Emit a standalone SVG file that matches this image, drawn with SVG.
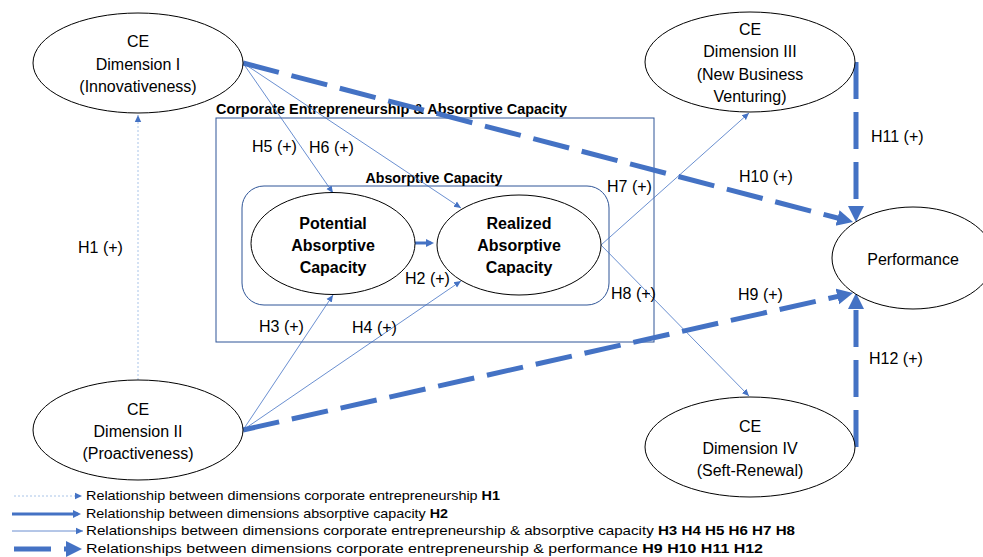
<svg xmlns="http://www.w3.org/2000/svg" width="983" height="557" viewBox="0 0 983 557">
<style>
  text { font-family: "Liberation Sans", Arial, sans-serif; fill: #000; }
  .n { font-size: 16px; text-anchor: middle; }
  .nb { font-size: 16px; text-anchor: middle; font-weight: bold; }
  .lbl { font-size: 16px; }
  .leg { font-size: 13.5px; }
  .ell { fill: #fff; stroke: #000; stroke-width: 1; }
  .box { fill: none; stroke: #2F5597; stroke-width: 1; }
  .thin { stroke: #4472C4; stroke-width: 0.8; fill: none; marker-end: url(#aThin); }
  .dot { stroke: #A9C4E8; stroke-width: 1; stroke-dasharray: 2 2; fill: none; marker-end: url(#aThin); }
  .med { stroke: #4472C4; stroke-width: 3; fill: none; marker-end: url(#aMed); }
  .dash { stroke: #4472C4; stroke-width: 5; stroke-dasharray: 37 13; fill: none; marker-end: url(#aBig); }
</style>
<defs>
  <marker id="aThin" markerUnits="userSpaceOnUse" markerWidth="8" markerHeight="8" refX="7" refY="4" orient="auto">
    <path d="M0,0.8 L7,4 L0,7.2 z" fill="#4472C4"/>
  </marker>
  <marker id="aMed" markerUnits="userSpaceOnUse" markerWidth="10" markerHeight="10" refX="5" refY="5" orient="auto">
    <path d="M0,1 L8,5 L0,9 z" fill="#4472C4"/>
  </marker>
  <marker id="aBig" markerUnits="userSpaceOnUse" markerWidth="18" markerHeight="18" refX="4" refY="9" orient="auto">
    <path d="M0,1 L16,9 L0,17 z" fill="#4472C4"/>
  </marker>
</defs>

<g id="frame-ce-ac">
  <rect class="box" x="216" y="118" width="438" height="224"/>
  <text x="216" y="114" font-size="14" font-weight="bold" textLength="351" lengthAdjust="spacingAndGlyphs">Corporate Entrepreneurship &amp; Absorptive Capacity</text>
</g>
<g id="frame-ac">
  <rect class="box" x="242" y="186" width="367" height="119" rx="22" ry="22"/>
  <text x="434" y="183" font-size="14" font-weight="bold" text-anchor="middle" textLength="137" lengthAdjust="spacingAndGlyphs">Absorptive Capacity</text>
</g>

<g id="connectors">
  <line class="dot" x1="138" y1="380" x2="138" y2="115"/>
  <line class="med" x1="415" y1="243" x2="431" y2="243"/>
  <line class="thin" x1="243" y1="63" x2="333" y2="193"/>
  <line class="thin" x1="243" y1="63" x2="461" y2="208"/>
  <line class="thin" x1="243" y1="430" x2="333" y2="295"/>
  <line class="thin" x1="243" y1="430" x2="461" y2="281"/>
  <line class="thin" x1="601" y1="245" x2="749" y2="113"/>
  <line class="thin" x1="601" y1="245" x2="749" y2="396"/>
  <line class="dash" x1="243" y1="63" x2="841.4" y2="219"/>
  <line class="dash" x1="243" y1="430" x2="841.3" y2="295.6"/>
  <line class="dash" x1="856" y1="62" x2="856" y2="210"/>
  <line class="dash" x1="856" y1="447" x2="856" y2="305"/>
</g>

<g id="ce1">
  <ellipse class="ell" cx="138" cy="63" rx="105" ry="50"/>
  <text class="n" x="138" y="47">CE</text>
  <text class="n" x="138" y="70">Dimension I</text>
  <text class="n" x="138" y="92">(Innovativeness)</text>
</g>
<g id="ce2">
  <ellipse class="ell" cx="138" cy="430" rx="105" ry="50"/>
  <text class="n" x="138" y="415">CE</text>
  <text class="n" x="138" y="437">Dimension II</text>
  <text class="n" x="138" y="459">(Proactiveness)</text>
</g>
<g id="ce3">
  <ellipse class="ell" cx="750" cy="62" rx="105" ry="50"/>
  <text class="n" x="750" y="35">CE</text>
  <text class="n" x="750" y="57">Dimension III</text>
  <text class="n" x="750" y="80">(New Business</text>
  <text class="n" x="750" y="102">Venturing)</text>
</g>
<g id="ce4">
  <ellipse class="ell" cx="750" cy="447" rx="105" ry="50"/>
  <text class="n" x="750" y="432">CE</text>
  <text class="n" x="750" y="454">Dimension IV</text>
  <text class="n" x="750" y="476">(Seft-Renewal)</text>
</g>
<g id="performance">
  <ellipse class="ell" cx="913" cy="258" rx="81" ry="51"/>
  <text class="n" x="913" y="265" font-size="17">Performance</text>
</g>
<g id="pac">
  <ellipse class="ell" cx="333" cy="243.5" rx="82" ry="51"/>
  <text class="nb" x="333" y="229">Potential</text>
  <text class="nb" x="333" y="251">Absorptive</text>
  <text class="nb" x="333" y="273">Capacity</text>
</g>
<g id="rac">
  <ellipse class="ell" cx="519" cy="245" rx="82" ry="50"/>
  <text class="nb" x="519" y="229">Realized</text>
  <text class="nb" x="519" y="251">Absorptive</text>
  <text class="nb" x="519" y="273">Capacity</text>
</g>

<g id="labels">
  <text class="lbl" x="78" y="253">H1 (+)</text>
  <text class="lbl" x="405" y="284">H2 (+)</text>
  <text class="lbl" x="259" y="332">H3 (+)</text>
  <text class="lbl" x="352" y="333">H4 (+)</text>
  <text class="lbl" x="252" y="152">H5 (+)</text>
  <text class="lbl" x="309" y="153">H6 (+)</text>
  <text class="lbl" x="607" y="192">H7 (+)</text>
  <text class="lbl" x="611" y="299">H8 (+)</text>
  <text class="lbl" x="738" y="300">H9 (+)</text>
  <text class="lbl" x="739" y="182">H10 (+)</text>
  <text class="lbl" x="871" y="142">H11 (+)</text>
  <text class="lbl" x="869" y="364">H12 (+)</text>
</g>

<g id="legend">
  <line class="dot" x1="14" y1="496" x2="82" y2="496"/>
  <line class="med" x1="12" y1="514" x2="78" y2="514"/>
  <line class="thin" x1="12" y1="531" x2="83" y2="531"/>
  <line class="dash" x1="14" y1="549" x2="70" y2="549" stroke-dasharray="36 20"/>
  <text class="leg" x="86" y="500" textLength="414" lengthAdjust="spacingAndGlyphs">Relationship between dimensions corporate entrepreneurship <tspan font-weight="bold">H1</tspan></text>
  <text class="leg" x="86" y="518" textLength="362" lengthAdjust="spacingAndGlyphs">Relationship between dimensions absorptive capacity <tspan font-weight="bold">H2</tspan></text>
  <text class="leg" x="86" y="535" textLength="709" lengthAdjust="spacingAndGlyphs">Relationships between dimensions corporate entrepreneurship &amp; absorptive capacity <tspan font-weight="bold">H3 H4 H5 H6 H7 H8</tspan></text>
  <text class="leg" x="86" y="553" textLength="677" lengthAdjust="spacingAndGlyphs">Relationships between dimensions corporate entrepreneurship &amp; performance <tspan font-weight="bold">H9 H10 H11 H12</tspan></text>
</g>
</svg>
